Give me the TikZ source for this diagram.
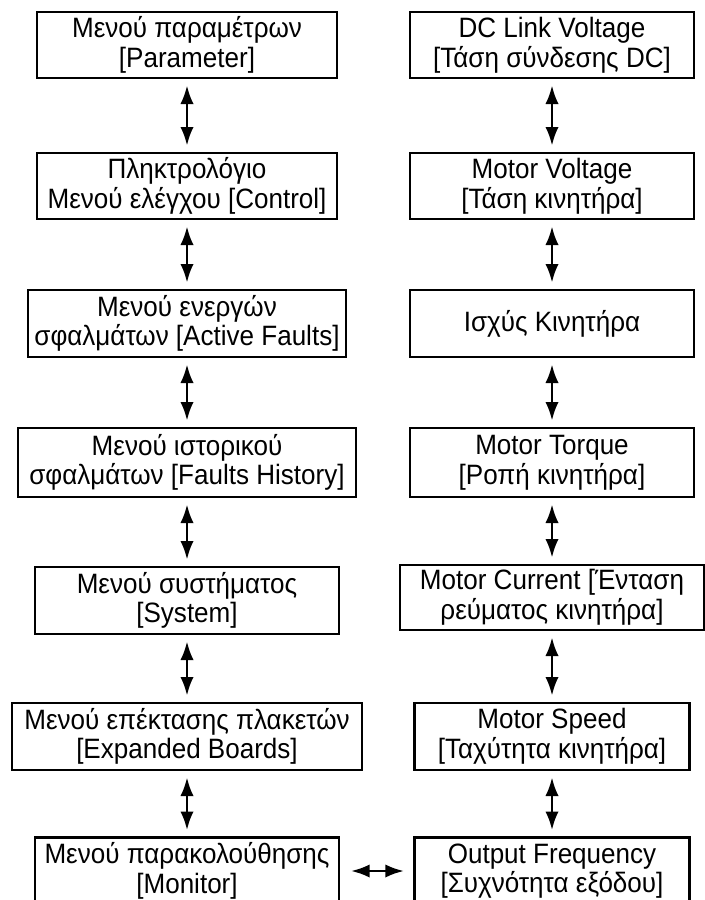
\documentclass[tikz,border=0pt]{standalone}
\usepackage{fontspec}
\setmainfont[FakeStretch=0.93]{Liberation Sans}
\usetikzlibrary{arrows.meta}

\tikzset{
  menubox/.style={draw, line width=2pt, align=center, inner sep=0pt,
    font=\fontsize{21}{22.2}\selectfont},
  link/.style={{Latex[length=14pt,width=10pt]}-{Latex[length=14pt,width=10pt]},
    line width=2pt, shorten >=4.5pt, shorten <=4.5pt}
}

\begin{document}
\begin{tikzpicture}[x=0.75pt,y=-0.75pt]
\useasboundingbox (0,0) rectangle (704,900);
% left column
\node[menubox, minimum width=225pt, minimum height=49.5pt] (param) at (187,45) {Μενού παραμέτρων\\{}[Parameter]};
\node[menubox, minimum width=225pt, minimum height=49.5pt] (keypad) at (187,186) {Πληκτρολόγιο\\Μενού ελέγχου [Control]};
\node[menubox, minimum width=238.5pt, minimum height=50.25pt] (active) at (187,323.5) {Μενού ενεργών\\σφαλμάτων [Active Faults]};
\node[menubox, minimum width=253.5pt, minimum height=51.75pt] (history) at (187,462.5) {Μενού ιστορικού\\σφαλμάτων [Faults History]};
\node[menubox, minimum width=228pt, minimum height=50.25pt] (system) at (187,600.5) {Μενού συστήματος\\{}[System]};
\node[menubox, minimum width=262.5pt, minimum height=50.25pt] (boards) at (187,736.5) {Μενού επέκτασης πλακετών\\{}[Expanded Boards]};
\node[menubox, minimum width=228pt, minimum height=50.25pt] (monitor) at (187,871) {Μενού παρακολούθησης\\{}[Monitor]};
% right column
\node[menubox, minimum width=213pt, minimum height=49.5pt] (dclink) at (552,45) {DC Link Voltage\\{}[Τάση σύνδεσης DC]};
\node[menubox, minimum width=213pt, minimum height=49.5pt] (voltage) at (552,186) {Motor Voltage\\{}[Τάση κινητήρα]};
\node[menubox, minimum width=213pt, minimum height=50.25pt] (power) at (552,323.5) {Ισχύς Κινητήρα};
\node[menubox, minimum width=213pt, minimum height=51.75pt] (torque) at (552,462.5) {Motor Torque\\{}[Ροπή κινητήρα]};
\node[menubox, minimum width=228pt, minimum height=48.75pt] (current) at (552,597.5) {Motor Current [Ένταση\\ρεύματος κινητήρα]};
\node[menubox, minimum width=206pt, minimum height=50.25pt] (speed) at (552,736.5) {Motor Speed\\{}[Ταχύτητα κινητήρα]};
\node[menubox, minimum width=206pt, minimum height=50.25pt] (outfreq) at (552,871) {Output Frequency\\{}[Συχνότητα εξόδου]};
% connectors
\draw[link] (param) -- (keypad);
\draw[link] (keypad) -- (active);
\draw[link] (active) -- (history);
\draw[link] (history) -- (system);
\draw[link] (system) -- (boards);
\draw[link] (boards) -- (monitor);
\draw[link] (dclink) -- (voltage);
\draw[link] (voltage) -- (power);
\draw[link] (power) -- (torque);
\draw[link] (torque) -- (current);
\draw[link] (current) -- (speed);
\draw[link] (speed) -- (outfreq);
\draw[link, shorten >=7pt, shorten <=8pt] (monitor) -- (outfreq);
\end{tikzpicture}
\end{document}
